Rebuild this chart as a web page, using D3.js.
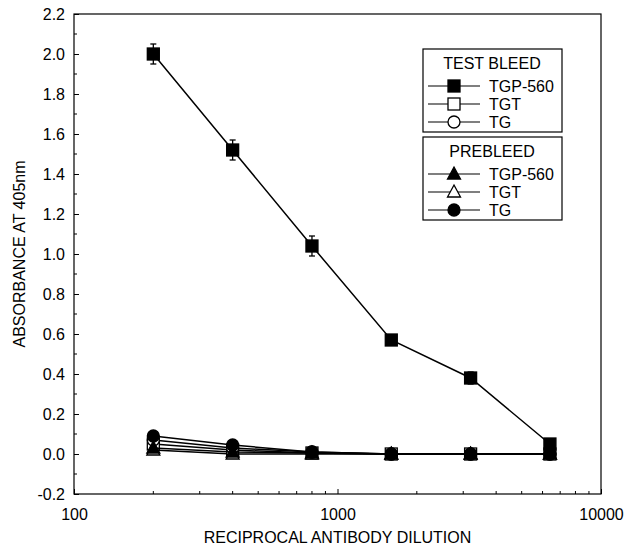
<!DOCTYPE html>
<html>
<head>
<meta charset="utf-8">
<script src="https://cdn.jsdelivr.net/npm/d3@7"></script>
<style>
  body { margin: 0; background: #fff; }
  text { font-family: "Liberation Sans", Arial, sans-serif; fill: #000; }
</style>
</head>
<body>
<div id="chart"></div>
<script>
// dilution steps shared by every series
let dilutions = [200, 400, 800, 1600, 3200, 6400];

// test bleed
let testTGP560 = [2.00, 1.52, 1.04, 0.57, 0.38, 0.05];
let testTGP560Err = [0.05, 0.05, 0.05, 0.015, 0.03, 0.01];
let testTGT = [0.05, 0.02, 0.005, 0.0, 0.0, 0.0];
let testTG = [0.07, 0.03, 0.01, 0.0, 0.0, 0.0];

// prebleed
let preTGP560 = [0.03, 0.01, 0.005, 0.0, 0.0, 0.0];
let preTGT = [0.02, 0.0, 0.0, 0.0, 0.0, 0.0];
let preTG = [0.09, 0.045, 0.01, 0.0, 0.0, 0.0];

let yTicks = [-0.2, 0.0, 0.2, 0.4, 0.6, 0.8, 1.0, 1.2, 1.4, 1.6, 1.8, 2.0, 2.2];
let xTicks = [100, 1000, 10000];

let width = 626, height = 548;
let plotLeft = 74, plotRight = 601, plotTop = 14, plotBottom = 494;

let svg = d3.select("#chart")
    .append("svg")
    .attr("width", width)
    .attr("height", height);

let xScale = d3.scaleLog()
    .domain([100, 10000])
    .range([plotLeft, plotRight]);

let yScale = d3.scaleLinear()
    .domain([-0.2, 2.2])
    .range([plotBottom, plotTop]);

// frame
svg.append("rect")
    .attr("x", plotLeft)
    .attr("y", plotTop)
    .attr("width", plotRight - plotLeft)
    .attr("height", plotBottom - plotTop)
    .style("fill", "none")
    .style("stroke", "#000")
    .style("stroke-width", 1.2);

// y axis (inward ticks)
let yAxis = d3.axisLeft(yScale)
    .tickValues(yTicks)
    .tickSize(-5)
    .tickPadding(9);

let yg = svg.append("g")
    .attr("transform", "translate(" + plotLeft + ",0)")
    .call(yAxis);
yg.select(".domain").remove();
yg.selectAll("text")
    .style("font-size", "16px")
    .style("font-family", "Liberation Sans, Arial, sans-serif")
    .text(d => d < 0 ? "-" + Math.abs(d).toFixed(1) : d.toFixed(1));

let yMinor = d3.range(-0.1, 2.2, 0.2);
svg.append("g").selectAll("line")
    .data(yMinor)
    .enter()
    .append("line")
    .attr("x1", plotLeft)
    .attr("x2", plotLeft + 3)
    .attr("y1", d => yScale(d))
    .attr("y2", d => yScale(d))
    .style("stroke", "#000");

// x axis (inward ticks)
let xAxis = d3.axisBottom(xScale)
    .tickValues(xTicks)
    .tickFormat(d3.format("d"))
    .tickSize(-5)
    .tickPadding(15);

let xg = svg.append("g")
    .attr("transform", "translate(0," + plotBottom + ")")
    .call(xAxis);
xg.select(".domain").remove();
xg.selectAll("text")
    .style("font-size", "16px")
    .style("font-family", "Liberation Sans, Arial, sans-serif");

let xMinor = [200, 300, 400, 500, 600, 700, 800, 900, 2000, 3000, 4000, 5000, 6000, 7000, 8000, 9000];
svg.append("g").selectAll("line")
    .data(xMinor)
    .enter()
    .append("line")
    .attr("x1", d => xScale(d))
    .attr("x2", d => xScale(d))
    .attr("y1", plotBottom)
    .attr("y2", plotBottom - 3)
    .style("stroke", "#000");

// axis titles
svg.append("text")
    .attr("x", (plotLeft + plotRight) / 2)
    .attr("y", 543)
    .attr("text-anchor", "middle")
    .style("font-size", "16px")
    .text("RECIPROCAL ANTIBODY DILUTION");

svg.append("text")
    .attr("transform", "translate(25," + ((plotTop + plotBottom) / 2) + ") rotate(-90)")
    .attr("text-anchor", "middle")
    .style("font-size", "16px")
    .text("ABSORBANCE AT 405nm");

// series, drawn bottom to top
let series = [
    { name: "TGT", values: preTGT, marker: "triangle", fill: "#fff" },
    { name: "TGT", values: testTGT, marker: "square", fill: "#fff" },
    { name: "TG", values: testTG, marker: "circle", fill: "#fff" },
    { name: "TGP-560", values: preTGP560, marker: "triangle", fill: "#000" },
    { name: "TG", values: preTG, marker: "circle", fill: "#000" },
    { name: "TGP-560", values: testTGP560, marker: "square", fill: "#000", err: testTGP560Err }
];

let line = d3.line()
    .x(d => xScale(d[0]))
    .y(d => yScale(d[1]));

function drawMarker(g, type, fill, x, y) {
    if (type == "square") {
        g.append("rect")
            .attr("x", x - 6)
            .attr("y", y - 6)
            .attr("width", 12)
            .attr("height", 12)
            .style("fill", fill)
            .style("stroke", "#000")
            .style("stroke-width", 1.3);
    } else if (type == "circle") {
        g.append("circle")
            .attr("cx", x)
            .attr("cy", y)
            .attr("r", 6)
            .style("fill", fill)
            .style("stroke", "#000")
            .style("stroke-width", 1.3);
    } else {
        g.append("path")
            .attr("d", "M" + x + "," + (y - 7) + "L" + (x + 6.5) + "," + (y + 5) + "L" + (x - 6.5) + "," + (y + 5) + "Z")
            .style("fill", fill)
            .style("stroke", "#000")
            .style("stroke-width", 1.3);
    }
}

series.forEach(function(s) {
    let pts = dilutions.map((d, i) => [d, s.values[i]]);
    svg.append("path")
        .attr("d", line(pts))
        .style("fill", "none")
        .style("stroke", "#000")
        .style("stroke-width", 1.5);

    if (s.err) {
        let eg = svg.append("g");
        pts.forEach(function(p, i) {
            let x = xScale(p[0]);
            let y0 = yScale(p[1] - s.err[i]), y1 = yScale(p[1] + s.err[i]);
            eg.append("line").attr("x1", x).attr("x2", x).attr("y1", y0).attr("y2", y1)
                .style("stroke", "#000").style("stroke-width", 1.3);
            [y0, y1].forEach(yy => eg.append("line")
                .attr("x1", x - 3).attr("x2", x + 3).attr("y1", yy).attr("y2", yy)
                .style("stroke", "#000").style("stroke-width", 1.3));
        });
    }

    let mg = svg.append("g");
    pts.forEach(p => drawMarker(mg, s.marker, s.fill, xScale(p[0]), yScale(p[1])));
});

// legend
let legendGroups = [
    { title: "TEST BLEED", y: 49, items: [
        { name: "TGP-560", marker: "square", fill: "#000" },
        { name: "TGT", marker: "square", fill: "#fff" },
        { name: "TG", marker: "circle", fill: "#fff" }] },
    { title: "PREBLEED", y: 137, items: [
        { name: "TGP-560", marker: "triangle", fill: "#000" },
        { name: "TGT", marker: "triangle", fill: "#fff" },
        { name: "TG", marker: "circle", fill: "#000" }] }
];

legendGroups.forEach(function(grp) {
    let g = svg.append("g");
    g.append("rect")
        .attr("x", 423)
        .attr("y", grp.y)
        .attr("width", 139)
        .attr("height", 83)
        .style("fill", "#fff")
        .style("stroke", "#000")
        .style("stroke-width", 1.2);

    g.append("text")
        .attr("x", 492)
        .attr("y", grp.y + 20)
        .attr("text-anchor", "middle")
        .style("font-size", "16px")
        .text(grp.title);

    grp.items.forEach(function(it, i) {
        let yy = grp.y + 37 + i * 18;
        g.append("line")
            .attr("x1", 428)
            .attr("x2", 480)
            .attr("y1", yy)
            .attr("y2", yy)
            .style("stroke", "#000")
            .style("stroke-width", 1.2);
        drawMarker(g, it.marker, it.fill, 454, yy);
        g.append("text")
            .attr("x", 489)
            .attr("y", yy + 6)
            .style("font-size", "16px")
            .text(it.name);
    });
});
</script>
</body>
</html>
